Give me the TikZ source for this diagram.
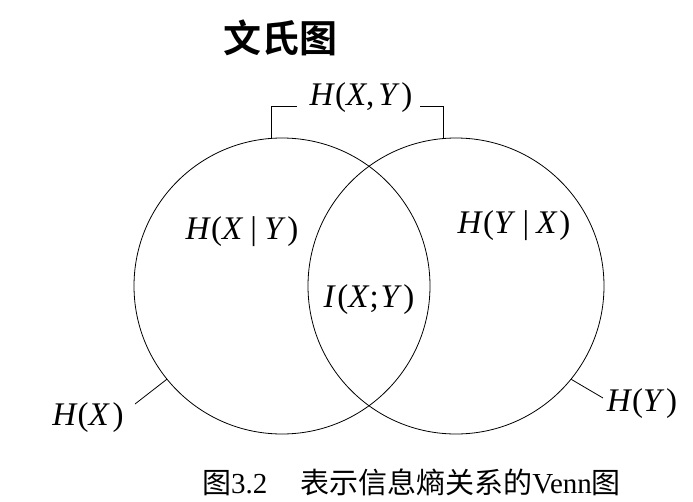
\documentclass[tikz,border=0pt]{standalone}
\usepackage{fontspec}
\setmainfont{Liberation Serif}
\newfontfamily\cjk{Noto Sans CJK SC}
\newfontfamily\cjkb{Noto Sans CJK SC Bold}
\newcommand{\mi}[1]{\textit{#1}}
\begin{document}
\begin{tikzpicture}[x=1pt,y=-1pt,line width=0.8pt,
  setcircle/.style={circle,draw,minimum size=296pt,inner sep=0pt},
  lbl/.style={inner sep=0pt,font=\fontsize{33}{38}\selectfont}]
\useasboundingbox (0,0) rectangle (693,501);
\node[font=\cjkb\fontsize{38}{42}\selectfont,inner sep=0pt] (title) at (280,38) {文氏图};
\node[setcircle] (L) at (282,286) {};
\node[setcircle] (R) at (456,286) {};
\node[lbl] (hxy) at (361,98) {\mi{H}(\mi{X},\kern0.12em\mi{Y}\kern0.05em)};
\node[lbl] (hxgy) at (242,232) {\mi{H}(\mi{X}\kern0.22em|\kern0.22em\mi{Y}\kern0.05em)};
\node[lbl] (hygx) at (514,226) {\mi{H}(\mi{Y}\kern0.22em|\kern0.22em\mi{X}\kern0.05em)};
\node[lbl] (ixy) at (369,300) {\mi{I}\kern0.05em(\mi{X};\kern0.05em\mi{Y}\kern0.05em)};
\node[lbl] (hx) at (88,418) {\mi{H}(\mi{X}\kern0.08em)};
\node[lbl] (hy) at (642,404) {\mi{H}(\mi{Y}\kern0.05em)};
\coordinate (bl) at (297,106);
\coordinate (br) at (420,106);
\coordinate (hxe) at (135,404);
\coordinate (hye) at (603,398);
\draw (L.94.4) |- (bl);
\draw (br) -| (R.95.8);
\draw (L.219.5) -- (hxe);
\draw (R.321) -- (hye);
\node[inner sep=0pt,font=\fontsize{29}{32}\selectfont] (cap) at (411.5,482.5)
  {{\cjk 图}3.2\hspace{33pt}{\cjk 表示信息熵关系的}Venn{\cjk 图}};
\end{tikzpicture}
\end{document}
